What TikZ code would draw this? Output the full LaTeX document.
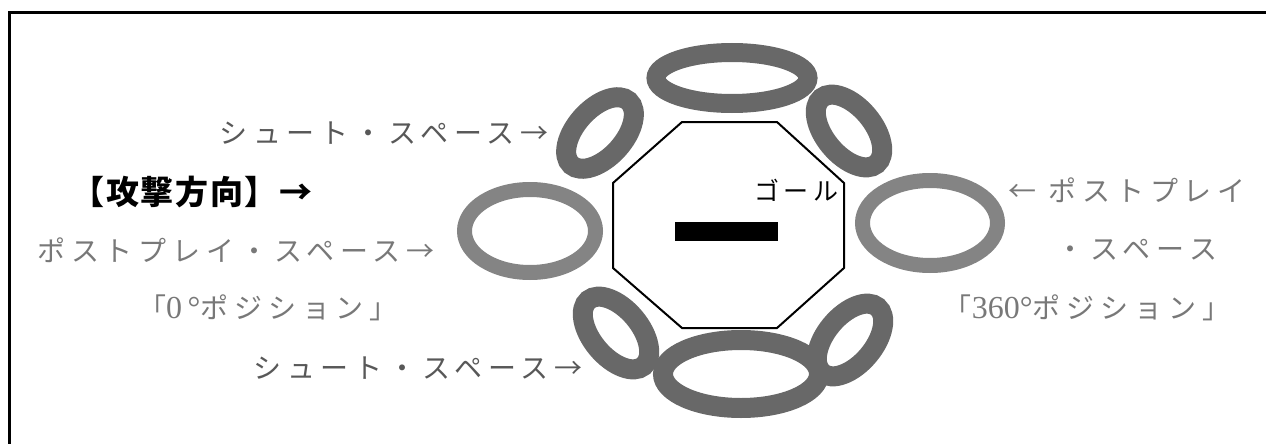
\documentclass[tikz,border=0pt]{standalone}
\usepackage{fontspec}
\setmainfont{Liberation Serif}
\newfontfamily\jp[LetterSpace=21]{Noto Sans CJK JP}
\newfontfamily\jpgoal[LetterSpace=18]{Noto Sans CJK JP}
\newfontfamily\jpbold[LetterSpace=5]{Noto Sans CJK JP}
\definecolor{ringdark}{RGB}{104,104,104}
\definecolor{ringlight}{RGB}{132,132,132}
\definecolor{txtdark}{RGB}{88,88,88}
\definecolor{txtlight}{RGB}{120,120,120}
\tikzset{
  ringd/.style={draw=ringdark, line width=20pt},
  ringl/.style={draw=ringlight, line width=15pt},
  lbl/.style={inner sep=0pt, font=\jp\fontsize{28}{32}\selectfont},
  shoot/.style={lbl, text=txtdark},
  post/.style={lbl, text=txtlight},
  frameline/.style={line width=3pt, line join=miter},
  goalline/.style={line width=2pt, line join=miter}
}
\begin{document}
\begin{tikzpicture}[x=1pt,y=-1pt]
\useasboundingbox (0,0) rectangle (1266,444);
\draw[frameline] (9,444) -- (9,13) -- (1266,13);
% goal area
\draw[goalline] (682,122) -- (777,122) -- (844,183) -- (844,268) -- (777,328) -- (682,328) -- (613,268) -- (613,183) -- cycle;
\fill (675,222) rectangle (778,241);
% rings
\draw[ringd, line width=19pt] (732,78) ellipse [x radius=76, y radius=25.5];
\draw[ringd] (741,374) ellipse [x radius=78, y radius=34];
\draw[ringd, rotate around={48:(600,133)}] (600,133) ellipse [x radius=43, y radius=24];
\draw[ringd, rotate around={-50:(849,131)}] (849,131) ellipse [x radius=43, y radius=24];
\draw[ringd, rotate around={-50:(616,333)}] (616,333) ellipse [x radius=43, y radius=24];
\draw[ringd, rotate around={50:(850,340)}] (850,340) ellipse [x radius=43, y radius=24];
\draw[ringl] (530,231) ellipse [x radius=65.5, y radius=41.5];
\draw[ringl] (930,223) ellipse [x radius=67.5, y radius=42.5];
% labels
\node[inner sep=0pt, font=\jpgoal\fontsize{25}{28}\selectfont] (goal) at (796,190) {ゴール};
\node[shoot] (shootTop) at (384,133) {シュート・スペース→};
\node[inner sep=0pt, font=\jpbold\bfseries\fontsize{33}{38}\selectfont] (attack) at (192,192) {【攻撃方向】→};
\node[post] (postL) at (236,250) {ポストプレイ\kern6pt・\kern6pt スペース\kern6pt→};
\node[post] (zeroPos) at (268,308) {「{\fontsize{32}{36}\rmfamily 0\,°}ポジション」};
\node[shoot] (shootBot) at (418,368) {シュート・スペース→};
\node[post] (postR1) at (1127,190) {← ポストプレイ};
\node[post] (postR2) at (1137,250) {・スペース};
\node[post] (pos360) at (1087,308) {「{\fontsize{32}{36}\rmfamily 360°}ポジション」};
\end{tikzpicture}
\end{document}
